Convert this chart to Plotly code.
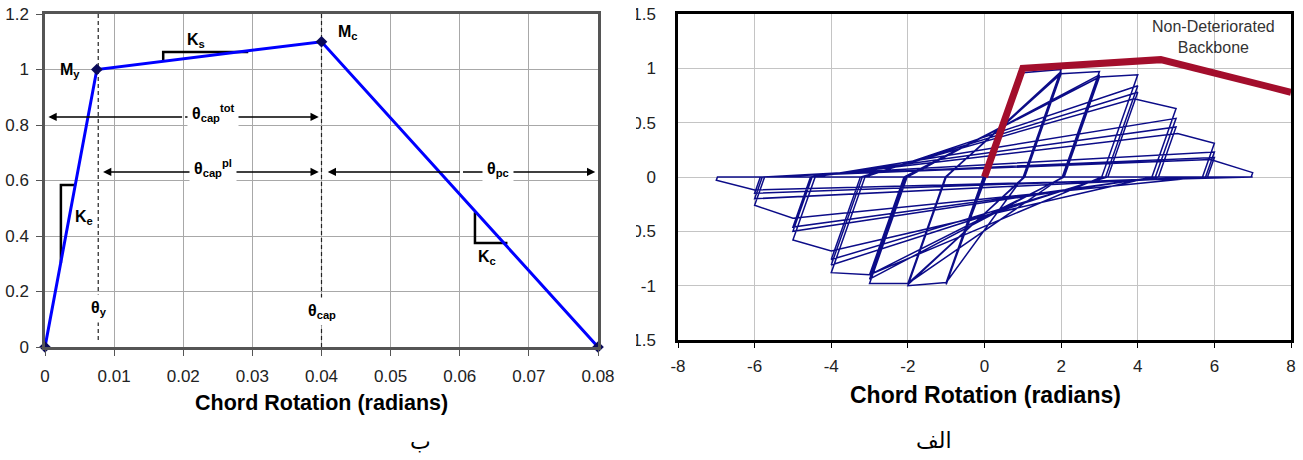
import plotly.graph_objects as go

# ---------------- data: left panel (backbone definition) ----------------
theta_pts = [0.0, 0.0075, 0.04, 0.08]
moment_pts = [0.0, 1.0, 1.1, 0.0]

x_ticks_left = [0, 0.01, 0.02, 0.03, 0.04, 0.05, 0.06, 0.07, 0.08]
x_ticktext_left = ["0", "0.01", "0.02", "0.03", "0.04", "0.05", "0.06", "0.07", "0.08"]
y_ticks_left = [0, 0.2, 0.4, 0.6, 0.8, 1.0, 1.2]
y_ticktext_left = ["0", "0.2", "0.4", "0.6", "0.8", "1", "1.2"]

theta_y = 0.0077
theta_cap = 0.04

# slope triangles (Ke, Ks, Kc)
ke_x = [0.0045, 0.0023, 0.0023]
ke_y = [0.584, 0.584, 0.303]
ks_x = [0.0294, 0.0171, 0.0171]
ks_y = [1.063, 1.063, 1.034]
kc_x = [0.0622, 0.0622, 0.0669]
kc_y = [0.486, 0.375, 0.375]

# ---------------- data: right panel (cyclic response) ----------------
hyst_x = [0,
          1, 0.01, -1, -0.01,
          1, 0.03, -1, -0.02,
          1, 0.04, -1, -0.03,
          1, 2, 1.01, -1, -2, -1.0,
          2, 1.03, -2, -1.01,
          2, 1.05, -2, -1.02,
          2, 3, 2.03, -2, -3, -2.02,
          3, 2.06, -3, -2.06,
          3, 2.08, -3, -2.10,
          3, 4, 3.06, -3, -4, -3.12,
          4, 3.16, -4, -3.19,
          4, 3.22, -4, -3.24,
          3.9, 5, 4.37, -4, -5, -4.42,
          5, 4.46, -5, -4.50,
          5, 4.54, -5, -4.54,
          5.04, 6, 5.69, -5, -6, -5.74,
          6, 5.77, -6, -5.80,
          6, 5.82, -6, -5.85,
          5.9, 7, 6.96, -6, -7, -6.97,
          7]
hyst_y = [0,
          0.99, 0, -0.99, 0,
          0.97, 0, -0.98, 0,
          0.96, 0, -0.97, 0,
          0.96, 0.99, 0, -0.97, -1.0, 0,
          0.97, 0, -0.99, 0,
          0.95, 0, -0.98, 0,
          0.95, 0.97, 0, -0.98, -0.98, 0,
          0.94, 0, -0.94, 0,
          0.92, 0, -0.90, 0,
          0.92, 0.94, 0, -0.90, -0.88, 0,
          0.84, 0, -0.81, 0,
          0.78, 0, -0.76, 0,
          0.72, 0.63, 0, -0.68, -0.58, 0,
          0.54, 0, -0.50, 0,
          0.46, 0, -0.46, 0,
          0.40, 0.31, 0, -0.38, -0.26, 0,
          0.23, 0, -0.20, 0,
          0.18, 0, -0.15, 0,
          0.16, 0.04, 0, -0.12, -0.03, 0,
          0.0]

backbone_x = [0, 1.0, 4.6, 8.0]
backbone_y = [0, 1.0, 1.08, 0.78]

x_ticks_right = [-8, -6, -4, -2, 0, 2, 4, 6, 8]
x_ticktext_right = ["-8", "-6", "-4", "-2", "0", "2", "4", "6", "8"]
y_ticks_right = [-1.5, -1, -0.5, 0, 0.5, 1, 1.5]
y_ticktext_right = ["-1.5", "-1", "-0.5", "0", "0.5", "1", "1.5"]

# ---------------- figure ----------------
W, H = 1303, 460
FONT = "Liberation Sans, Arial, sans-serif"
fig = go.Figure()

# left panel traces
fig.add_trace(go.Scatter(x=[theta_y, theta_y], y=[1.2, 0.02], mode="lines",
                         line=dict(color="#222", width=1.2, dash="4px,3px"),
                         xaxis="x", yaxis="y", hoverinfo="skip"))
fig.add_trace(go.Scatter(x=[theta_cap, theta_cap], y=[1.2, 0.0], mode="lines",
                         line=dict(color="#222", width=1.2, dash="4px,3px"),
                         xaxis="x", yaxis="y", hoverinfo="skip"))
for tx, ty in [(ke_x, ke_y), (ks_x, ks_y), (kc_x, kc_y)]:
    fig.add_trace(go.Scatter(x=tx, y=ty, mode="lines",
                             line=dict(color="black", width=2.5),
                             xaxis="x", yaxis="y", hoverinfo="skip"))
fig.add_trace(go.Scatter(x=theta_pts, y=moment_pts, mode="lines+markers",
                         line=dict(color="#0000ff", width=3),
                         marker=dict(symbol="diamond", size=9, color="#0a0a5a"),
                         cliponaxis=False, xaxis="x", yaxis="y"))

# right panel traces
fig.add_trace(go.Scatter(x=hyst_x, y=hyst_y, mode="lines",
                         line=dict(color="#0c0c88", width=1.5),
                         xaxis="x2", yaxis="y2", hoverinfo="skip"))
fig.add_trace(go.Scatter(x=backbone_x, y=backbone_y, mode="lines",
                         line=dict(color="#a30e2c", width=7),
                         xaxis="x2", yaxis="y2", hoverinfo="skip"))

axis_font = dict(family=FONT, size=17, color="#222")

fig.update_layout(
    width=W, height=H, margin=dict(l=0, r=0, t=0, b=0, autoexpand=False),
    paper_bgcolor="white", plot_bgcolor="white", showlegend=False,
    xaxis=dict(domain=[45 / W, 598 / W], range=[0, 0.08], anchor="y",
               tickvals=x_ticks_left, ticktext=x_ticktext_left,
               showgrid=True, gridcolor="#a8a8a8", gridwidth=1,
               showline=True, linecolor="#555", linewidth=2.5, mirror=True,
               ticks="outside", ticklen=6, tickcolor="#555",
               ticklabelstandoff=6, zeroline=False, tickfont=axis_font),
    yaxis=dict(domain=[1 - 347 / H, 1 - 14 / H], range=[0, 1.2], anchor="x",
               tickvals=y_ticks_left, ticktext=y_ticktext_left,
               showgrid=True, gridcolor="#a8a8a8", gridwidth=1,
               showline=True, linecolor="#555", linewidth=2.5, mirror=True,
               ticks="outside", ticklen=6, tickcolor="#555",
               ticklabelstandoff=4, zeroline=False, tickfont=axis_font),
    xaxis2=dict(domain=[678 / W, 1291 / W], range=[-8, 8], anchor="y2",
                tickvals=x_ticks_right, ticktext=x_ticktext_right,
                showgrid=True, gridcolor="#c4c4c4", gridwidth=1,
                showline=True, linecolor="black", linewidth=2.5, mirror=True,
                ticks="outside", ticklen=5, tickcolor="black",
                ticklabelstandoff=4, zeroline=False,
                tickfont=dict(family=FONT, size=17, color="#222")),
    yaxis2=dict(domain=[1 - 340 / H, 1 - 14 / H], range=[-1.5, 1.5], anchor="x2",
                tickvals=y_ticks_right, ticktext=y_ticktext_right,
                showgrid=True, gridcolor="#c4c4c4", gridwidth=1,
                showline=True, linecolor="black", linewidth=2.5, mirror=True,
                ticks="", ticklabelstandoff=16, zeroline=False,
                tickfont=dict(family=FONT, size=17, color="#222")),
)

# clip the right panel's y tick labels like the reference
fig.add_shape(type="rect", xref="paper", yref="paper",
              x0=604 / W, x1=636 / W, y0=1 - 352 / H, y1=1.0,
              fillcolor="white", line=dict(width=0), layer="above")

ann = []
lab_font = dict(family=FONT, size=16, color="black")


def lab(text, x, y, bg=None):
    d = dict(text="<b>" + text + "</b>", x=x, y=y, xref="x", yref="y",
             xanchor="center", yanchor="middle",
             showarrow=False, font=lab_font)
    if bg:
        d["bgcolor"] = bg
        d["borderpad"] = 4
    ann.append(d)


# double arrows first (label boxes drawn over them)
for x0, x1, yv in [(0.0005, 0.0396, 0.829), (0.0084, 0.0396, 0.631), (0.0409, 0.0796, 0.631)]:
    xm = (x0 + x1) / 2
    for xt in (x0, x1):
        ann.append(dict(x=xt, y=yv, ax=xm, ay=yv, xref="x", yref="y", axref="x", ayref="y",
                        text="", showarrow=True, arrowhead=2, arrowsize=1.1, arrowwidth=1.5,
                        arrowcolor="black", standoff=0))

lab("M<sub>y</sub>", 0.0036, 0.998)
lab("M<sub>c</sub>", 0.0438, 1.135)
lab("K<sub>s</sub>", 0.0218, 1.106)
lab("K<sub>e</sub>", 0.0057, 0.468)
lab("K<sub>c</sub>", 0.0639, 0.321)
lab("θ<sub>cap</sub><sup>tot</sup>", 0.0243, 0.843, "white")
lab("θ<sub>cap</sub><sup>pl</sup>", 0.0243, 0.645, "white")
lab("θ<sub>pc</sub>", 0.0655, 0.638, "white")
lab("θ<sub>y</sub>", 0.0078, 0.137, "white")
lab("θ<sub>cap</sub>", 0.0400, 0.128, "white")


def paper_text(text, px, py, size, family=FONT, color="black"):
    ann.append(dict(text=text, x=px / W, y=1 - py / H, xref="paper", yref="paper",
                    xanchor="center", yanchor="middle", showarrow=False,
                    font=dict(family=family, size=size, color=color)))


ann.append(dict(text="Non-Deteriorated<br>Backbone", x=5.99, y=1.29, xref="x2", yref="y2",
                xanchor="center", yanchor="middle",
                showarrow=False, font=dict(family=FONT, size=16, color="#333")))
paper_text("<b>Chord Rotation (radians)</b>", 321, 403, 21.5)
paper_text("<b>Chord Rotation (radians)</b>", 985, 395, 23)
paper_text("ب", 420, 441, 22, family="DejaVu Sans")
paper_text("الف", 934, 440, 22, family="DejaVu Sans")

fig.update_layout(annotations=ann)
fig.write_html("out.html",
               post_script="document.body.style.margin='0';document.body.style.padding='0';"
                           "document.body.style.overflow='hidden';")
